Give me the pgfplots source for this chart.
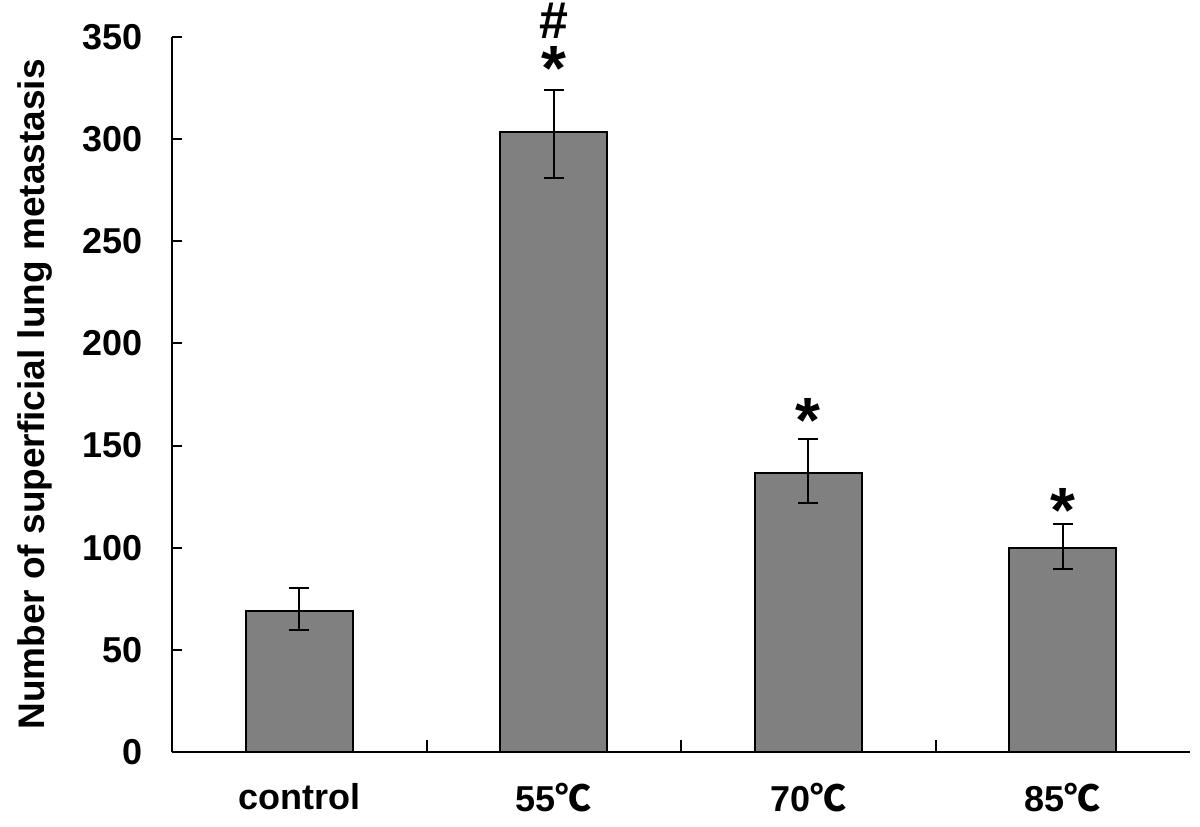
\documentclass[border=0pt]{standalone}
\usepackage{fontspec}
\setmainfont{Liberation Sans}
\newfontfamily\cjk{Noto Sans CJK SC}
\usepackage{pgfplots}
\pgfplotsset{compat=1.18}
\newcommand{\degC}{{\cjk\bfseries ℃}}
\definecolor{barfill}{HTML}{808080}
\pgfplotstableread{
x y ep em
0 69.1 11.2 9.4
1 303.6 20.4 22.8
2 136.7 16.3 14.8
3 99.7 11.9 10.1
}\datatable
\begin{document}
\begin{tikzpicture}
\useasboundingbox (0,0) rectangle (600pt,413pt);
\begin{axis}[
  at={(86pt,37pt)}, anchor=south west,
  scale only axis, width=509pt, height=357.5pt,
  xmin=-0.5, xmax=3.5, ymin=0, ymax=350,
  axis lines*=left,
  xtick={0,1,2,3},
  xticklabels={control,55\degC,70\degC,85\degC},
  major x tick style={draw=none},
  minor xtick={0.5,1.5,2.5},
  ytick={0,50,...,350},
  tick align=inside,
  major tick length=5pt, minor tick length=6pt,
  tick style={black, line width=1pt},
  axis line style={line width=1pt},
  tick label style={font=\fontsize{18}{20}\selectfont\bfseries},
  /pgf/number format/assume math mode=true,
  xticklabel style={yshift=-12pt},
  yticklabel style={xshift=-11pt},
  ylabel={Number of superficial lung metastasis},
  ylabel style={at={(axis description cs:-0.1346,0.5)}, anchor=center, font=\fontsize{18.5}{20}\selectfont\bfseries},
  clip=false,
]
\addplot[ybar, bar width=53.5pt, fill=barfill, draw=black, line width=1pt,
  error bars/.cd, y dir=both, y explicit,
  error bar style={line width=1pt, black},
  error mark options={rotate=90, mark size=5pt, line width=1pt, black}]
  table[x=x, y=y, y error plus=ep, y error minus=em]{\datatable};
\node[inner sep=0, anchor=base, font=\fontsize{32}{32}\selectfont\bfseries] at (axis cs:1,323.6)
  {\makebox[0pt]{*}\makebox[0pt]{\raisebox{26pt}{\fontsize{26}{26}\selectfont\#}}};
\node[inner sep=0, anchor=base, font=\fontsize{32}{32}\selectfont\bfseries] at (axis cs:2,151.4) {*};
\node[inner sep=0, anchor=base, font=\fontsize{32}{32}\selectfont\bfseries] at (axis cs:3,107.4) {*};
\end{axis}
\end{tikzpicture}
\end{document}
